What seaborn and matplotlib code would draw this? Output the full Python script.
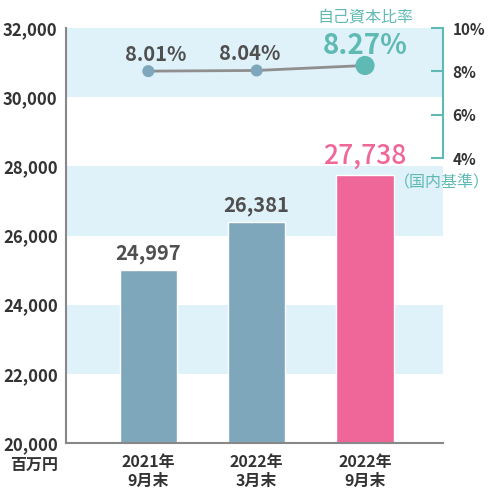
import matplotlib
matplotlib.use("Agg")
import matplotlib.pyplot as plt
import seaborn as sns
import pandas as pd

categories = ["2021年\n9月末", "2022年\n3月末", "2022年\n9月末"]
capital = [24997, 26381, 27738]
capital_labels = ["24,997", "26,381", "27,738"]
ratios = [8.01, 8.04, 8.27]
ratio_labels = ["8.01%", "8.04%", "8.27%"]
left_ticks = [20000, 22000, 24000, 26000, 28000, 30000, 32000]
left_tick_labels = ["20,000", "22,000", "24,000", "26,000", "28,000", "30,000", "32,000"]
right_ticks = [4, 6, 8, 10]
right_tick_labels = ["4%", "6%", "8%", "10%"]

sns.set_theme(style="white")
plt.rcParams['font.family'] = ['Noto Sans CJK JP', 'DejaVu Sans']

BLUE = "#7fa7bc"
PINK = "#ef6699"
TEAL = "#5fbab4"
BAND = "#dff1f9"
DARK = "#333333"
GREYTXT = "#505050"

fig = plt.figure(figsize=(4.92, 4.94), dpi=100)
ax = fig.add_axes([66/492, 51/494, 377/492, 415/494])

df = pd.DataFrame({"cat": categories, "val": capital, "grp": ["a", "a", "b"]})
for lo in [22000, 26000, 30000]:
    ax.axhspan(lo, lo + 2000, color=BAND, zorder=0, lw=0)
sns.barplot(data=df, x="cat", y="val", hue="grp", palette={"a": BLUE, "b": PINK},
            dodge=False, width=0.53, legend=False, ax=ax, zorder=2, saturation=1)
ax.set_xlim(-0.76, 2.72)
ax.set_ylim(20000, 32000)
ax.set_yticks(left_ticks)
ax.set_yticklabels(left_tick_labels, fontsize=12, fontweight="bold", color=DARK)
ax.tick_params(axis="y", length=0, pad=6)
ax.tick_params(axis="x", length=0, pad=8)
ax.set_xticks(range(len(categories)))
ax.set_xticklabels(categories, fontsize=11.5, fontweight="bold", color=DARK, linespacing=1.2)
ax.set_xlabel("")
ax.set_ylabel("")
for s in ["top", "right"]:
    ax.spines[s].set_visible(False)
for s in ["left", "bottom"]:
    ax.spines[s].set_color("#888888")
    ax.spines[s].set_linewidth(1.5)

ax.text(-0.021, -0.053, "百万円", transform=ax.transAxes, ha="right", va="center",
        fontsize=11.5, fontweight="bold", color=DARK)

for i, (v, lab) in enumerate(zip(capital, capital_labels)):
    if i < 2:
        ax.text(i, v + 180, lab, ha="center", va="bottom", fontsize=14.5,
                fontweight="bold", color=GREYTXT)
    else:
        ax.text(i, v + 180, lab, ha="center", va="bottom", fontsize=19,
                color=PINK, fontweight="medium")
ax.text(490/492, 1 - (182-28)/415, "（国内基準）", transform=fig.transFigure,
        ha="right", va="center", fontsize=11.5, color=TEAL, clip_on=False)

ax2 = ax.twinx()
ax2.set_ylim(10 - 19.15, 10)
sns.lineplot(x=[0, 1, 2], y=ratios, ax=ax2, color="#8f8f8f", lw=2, zorder=3)
sns.scatterplot(x=[0, 1], y=ratios[:2], ax=ax2, color=BLUE, s=75, edgecolor="none", zorder=4)
sns.scatterplot(x=[2], y=ratios[2:], ax=ax2, color=TEAL, s=190, edgecolor="none", zorder=4)
ax2.set_xlim(-0.76, 2.72)
for i in range(2):
    ax2.text(i + (0.07 if i == 0 else -0.06), ratios[i] + 0.47, ratio_labels[i],
             ha="center", va="baseline", fontsize=14.5, fontweight="bold", color=GREYTXT)
ax2.text(2, ratios[2] + 0.55, ratio_labels[2], ha="center", va="baseline",
         fontsize=20, fontweight="bold", color=TEAL)
ax2.text(2, 10.3, "自己資本比率", ha="center", va="baseline", fontsize=11.5, color=TEAL,
         clip_on=False)
ax2.set_yticks(right_ticks)
ax2.set_yticklabels(right_tick_labels, fontsize=11, fontweight="bold", color=DARK)
ax2.tick_params(axis="y", direction="in", length=9, width=1.5, color=TEAL, pad=7)
for s in ["top", "left", "bottom"]:
    ax2.spines[s].set_visible(False)
ax2.spines["right"].set_bounds(4, 10)
ax2.spines["right"].set_color(TEAL)
ax2.spines["right"].set_linewidth(1.5)
ax2.set_ylabel("")

fig.savefig("out.png", dpi=100)
